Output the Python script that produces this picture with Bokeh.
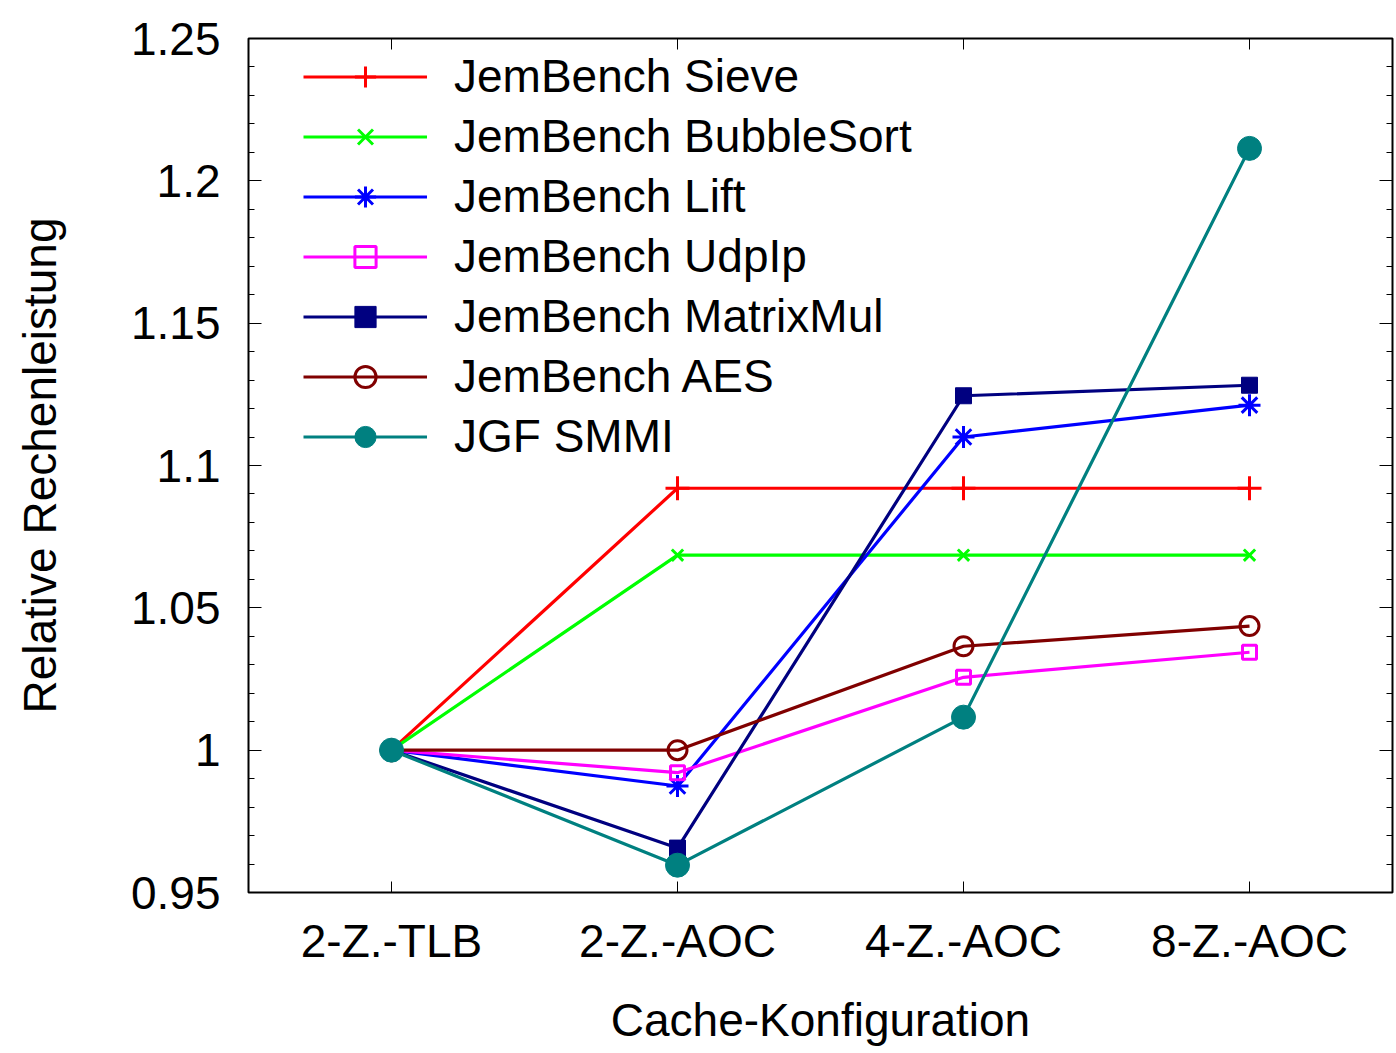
from bokeh.plotting import figure
from bokeh.models import (FactorRange, Range1d, LinearAxis, CategoricalAxis, FixedTicker,
                          CustomJSTickFormatter, Legend)
from bokeh.embed import file_html
from bokeh.resources import INLINE

categories = ["2-Z.-TLB", "2-Z.-AOC", "4-Z.-AOC", "8-Z.-AOC"]
sieve = [1.0, 1.092, 1.092, 1.092]
bubblesort = [1.0, 1.0685, 1.0685, 1.0685]
lift = [1.0, 0.9874, 1.110, 1.1212]
udpip = [1.0, 0.9921, 1.0256, 1.0344]
matrixmul = [1.0, 0.9656, 1.1245, 1.1282]
aes = [1.0, 1.0, 1.0365, 1.0436]
smmi = [1.0, 0.9596, 1.0116, 1.2114]
y_ticks = [0.95, 1.0, 1.05, 1.1, 1.15, 1.2, 1.25]
y_minor = [round(0.95 + 0.01 * i, 2) for i in range(31)]

FONT = "Liberation Sans"
FS = "46px"

p = figure(x_range=FactorRange(factors=categories, range_padding=0),
           y_range=Range1d(0.95, 1.25),
           width=1394, height=1048, output_backend="svg", toolbar_location=None,
           min_border_left=248, min_border_top=38, min_border_right=2, min_border_bottom=150,
           x_axis_location=None, y_axis_location=None)
p.grid.visible = False
p.outline_line_color = "black"
p.outline_line_width = 2
p.outline_line_alpha = 1
p.background_fill_color = "white"
p.border_fill_color = "white"

fmt = CustomJSTickFormatter(code="return String(Math.round(tick*100)/100);")

yl = LinearAxis(ticker=FixedTicker(ticks=y_ticks, minor_ticks=y_minor), formatter=fmt,
                axis_label="Relative Rechenleistung")
yr = LinearAxis(ticker=FixedTicker(ticks=y_ticks, minor_ticks=y_minor), formatter=fmt)
for ax in (yl, yr):
    ax.axis_line_color = None
    ax.major_tick_in = 13
    ax.major_tick_out = 0
    ax.minor_tick_in = 6
    ax.minor_tick_out = 0
    ax.major_tick_line_color = "black"
    ax.minor_tick_line_color = "black"
    ax.major_tick_line_width = 1
yl.major_label_text_font = FONT
yl.major_label_text_font_size = FS
yl.major_label_text_color = "black"
yl.major_label_standoff = 28
yl.axis_label_text_font = FONT
yl.axis_label_text_font_size = FS
yl.axis_label_text_font_style = "normal"
yl.axis_label_text_color = "black"
yl.axis_label_standoff = 62
yr.major_label_text_font_size = "0px"
yr.major_label_text_color = None
yr.major_label_standoff = 0
p.add_layout(yl, "left")
p.add_layout(yr, "right")

xb = CategoricalAxis(axis_label="Cache-Konfiguration")
xt = CategoricalAxis()
for ax in (xb, xt):
    ax.axis_line_color = None
    ax.major_tick_in = 11
    ax.major_tick_out = 0
    ax.minor_tick_line_color = None
    ax.major_tick_line_color = "black"
xb.major_label_text_font = FONT
xb.major_label_text_font_size = FS
xb.major_label_text_color = "black"
xb.major_label_standoff = 22
xb.axis_label_text_font = FONT
xb.axis_label_text_font_size = FS
xb.axis_label_text_font_style = "normal"
xb.axis_label_text_color = "black"
xb.axis_label_standoff = 24
xt.major_label_text_font_size = "0px"
xt.major_label_text_color = None
xt.major_label_standoff = 0
p.add_layout(xb, "below")
p.add_layout(xt, "above")

series = [
    ("JemBench Sieve", sieve, "#ff0000", "cross", 24, False, 3),
    ("JemBench BubbleSort", bubblesort, "#00ff00", "x", 16, False, 3),
    ("JemBench Lift", lift, "#0000ff", "asterisk", 22, False, 3),
    ("JemBench UdpIp", udpip, "#ff00ff", "square", 14, False, 3),
    ("JemBench MatrixMul", matrixmul, "#000080", "square", 16, True, 1),
    ("JemBench AES", aes, "#800000", "circle", 19, False, 3),
    ("JGF SMMI", smmi, "#008080", "circle", 24, True, 1),
]

items = []
for name, vals, color, marker, size, filled, mlw in series:
    r1 = p.line(categories, vals, line_color=color, line_width=3.2)
    r2 = p.scatter(categories, vals, marker=marker, size=size, line_color=color,
                   line_width=mlw, fill_color=color if filled else None)
    items.append((name, [r1, r2]))

legend = Legend(items=items, location=(55, 429))
legend.glyph_width = 124
legend.glyph_height = 53
legend.label_height = 53
legend.spacing = 6
legend.padding = 0
legend.margin = 0
legend.label_standoff = 27
legend.label_text_font = FONT
legend.label_text_font_size = FS
legend.label_text_color = "black"
legend.border_line_color = None
legend.background_fill_alpha = 0
p.add_layout(legend, "center")

open("out.html", "w").write(file_html(p, INLINE))
